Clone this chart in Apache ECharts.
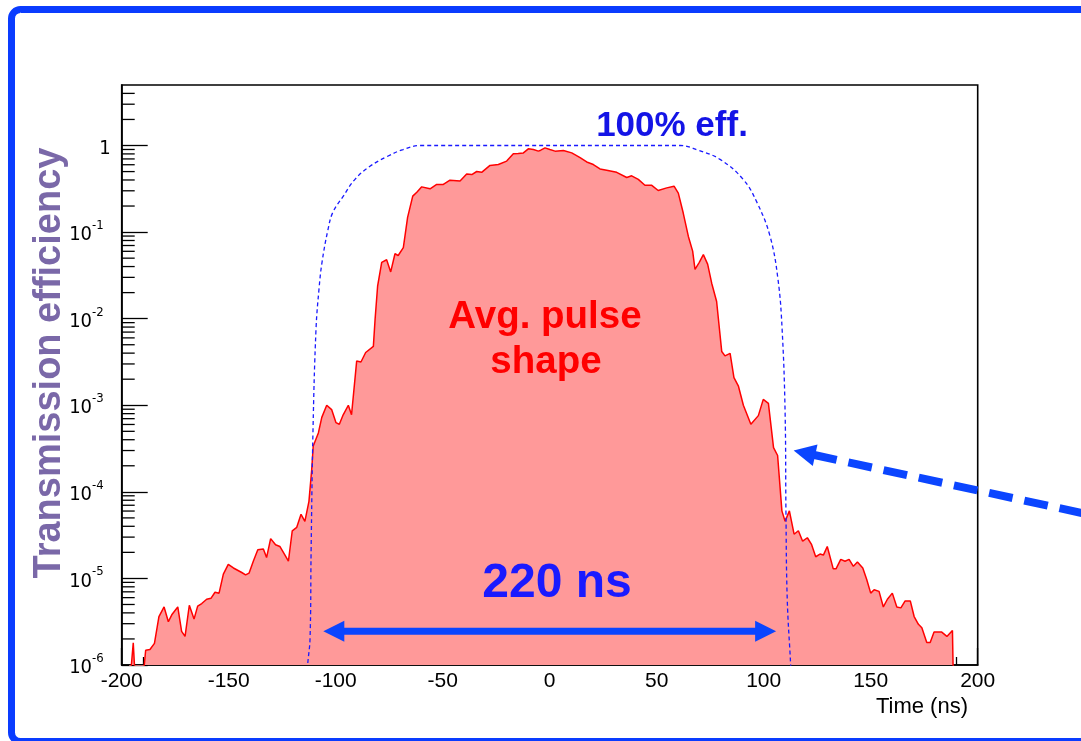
<!DOCTYPE html>
<html>
<head>
<meta charset="utf-8">
<script src="https://cdn.jsdelivr.net/npm/echarts@6/dist/echarts.min.js"></script>
<style>
  html, body { margin: 0; padding: 0; background: #fff; }
  #chart { width: 1081px; height: 741px; }
</style>
</head>
<body>
<div id="chart"></div>
<script>
// Average pulse shape: bin centres (ns) and transmitted fraction
const pulseTime = [
  -196.5, -194.6, -193.4, -190.6, -188.8, -186.8, -184.7, -182.6, -180.2, -178.2,
  -176.6, -173.8, -172.0, -170.4, -168.4, -166.2, -164.5, -162.6, -160.3, -158.3,
  -156.4, -154.5, -152.5, -150.2, -147.8, -143.9, -142.1, -140.5, -138.5, -136.4,
  -133.8, -132.3, -130.4, -128.1, -126.1, -123.7, -122.1, -120.3, -118.2, -116.2,
  -114.4, -112.5, -111.2, -110.5, -108.1, -106.5, -104.2, -101.9, -99.9, -98.3,
  -96.5, -94.1, -92.6, -90.2, -88.2, -86.0, -82.4, -81.6, -80.4, -78.5,
  -76.2, -74.3, -72.3, -70.8, -68.4, -66.4, -64.0, -62.1, -59.8, -55.9,
  -52.8, -49.7, -46.6, -41.9, -38.8, -36.4, -34.1, -31.8, -27.9, -24.0,
  -20.1, -17.0, -14.7, -12.3, -10.0, -7.6, -5.3, -4.2, -2.2, 0.1,
  2.5, 6.4, 10.3, 14.2, 17.3, 20.4, 23.5, 26.6, 31.3, 36.0,
  38.3, 41.4, 44.5, 47.7, 50.7, 54.7, 58.1, 60.1, 62.4, 64.8,
  66.8, 67.9, 69.9, 71.8, 73.8, 75.7, 78.0, 80.4, 81.9, 84.3,
  86.1, 88.2, 90.5, 94.0, 97.5, 99.8, 102.2, 104.6, 106.5, 108.5,
  110.0, 112.0, 114.2, 116.2, 118.2, 120.4, 122.4, 124.3, 126.3, 127.9,
  129.7, 132.5, 133.8, 136.0, 138.0, 139.9, 141.9, 143.8, 146.3, 148.1,
  150.0, 151.6, 153.9, 155.9, 157.8, 160.1, 162.2, 164.1, 166.1, 168.5,
  170.3, 172.3, 173.9, 176.2, 177.8, 179.6, 183.2, 185.6, 188.2, 188.7
];
const pulseEff = [
  5e-7, 1.8e-6, 5e-7, 5e-7, 1.48e-6, 1.51e-6, 1.78e-6, 3.63e-6, 4.68e-6, 3.16e-6,
  3.80e-6, 4.68e-6, 2.45e-6, 2.14e-6, 4.90e-6, 3.39e-6, 4.79e-6, 5.13e-6, 5.75e-6, 5.89e-6,
  6.92e-6, 6.76e-6, 1.12e-5, 1.45e-5, 1.32e-5, 1.17e-5, 1.10e-5, 1.15e-5, 1.58e-5, 2.14e-5,
  2.19e-5, 1.74e-5, 2.88e-5, 2.45e-5, 2.34e-5, 1.86e-5, 1.58e-5, 3.55e-5, 3.89e-5, 5.50e-5,
  4.57e-5, 7.76e-5, 1.82e-4, 3.39e-4, 4.79e-4, 7.24e-4, 1.00e-3, 8.91e-4, 6.31e-4, 6.03e-4,
  7.76e-4, 1.00e-3, 7.76e-4, 3.24e-3, 3.16e-3, 4.07e-3, 4.79e-3, 9.77e-3, 2.40e-2, 4.47e-2,
  4.79e-2, 3.47e-2, 5.62e-2, 5.37e-2, 6.61e-2, 0.148, 0.260, 0.288, 0.333, 0.316,
  0.355, 0.355, 0.398, 0.389, 0.468, 0.462, 0.501, 0.490, 0.589, 0.603,
  0.661, 0.802, 0.809, 0.822, 0.916, 0.899, 0.861, 0.883, 0.940, 0.899,
  0.861, 0.875, 0.822, 0.724, 0.646, 0.603, 0.537, 0.519, 0.490, 0.427,
  0.447, 0.407, 0.347, 0.347, 0.302, 0.324, 0.339, 0.282, 0.166, 8.91e-2,
  6.03e-2, 3.72e-2, 4.47e-2, 5.50e-2, 4.27e-2, 2.57e-2, 1.58e-2, 4.17e-3, 3.72e-3, 3.98e-3,
  2.09e-3, 1.66e-3, 1.00e-3, 6.03e-4, 7.59e-4, 1.17e-3, 1.05e-3, 3.24e-4, 2.63e-4, 6.03e-5,
  4.57e-5, 6.03e-5, 3.24e-5, 3.55e-5, 2.69e-5, 2.95e-5, 2.45e-5, 1.78e-5, 1.91e-5, 1.86e-5,
  2.34e-5, 1.29e-5, 1.29e-5, 1.66e-5, 1.58e-5, 1.66e-5, 1.38e-5, 1.55e-5, 1.32e-5, 9.77e-6,
  6.76e-6, 7.41e-6, 7.08e-6, 4.68e-6, 5.75e-6, 6.76e-6, 4.68e-6, 4.57e-6, 5.50e-6, 5.50e-6,
  3.63e-6, 2.95e-6, 2.69e-6, 1.82e-6, 1.82e-6, 2.40e-6, 2.40e-6, 2.14e-6, 2.51e-6, 5e-7
];

// Ideal transmission window (100 % efficiency)
const windowTime = [
  -113.6, -113.1, -112.0, -111.5, -110.6, -109.2, -107.8, -106.4, -103.6, -101.3,
  -96.6, -91.0, -84.0, -76.0, -68.5, -60.6, 61.1, 69.4, 79.6, 90.4,
  96.9, 103.0, 106.7, 108.6, 110.0, 110.4, 111.0, 112.6, 113.1
];
const windowEff = [
  5e-7, 1e-6, 2.0e-6, 2.0e-5, 5.25e-4, 7.59e-3, 2.2e-2, 4.47e-2, 0.107, 0.170,
  0.257, 0.407, 0.575, 0.746, 0.899, 1, 1, 0.883, 0.692, 0.407,
  0.219, 0.089, 0.0282, 7.59e-3, 8.3e-4, 5.75e-5, 5.75e-6, 1e-6, 5e-7
];

// Axis ranges
const timeRange = [-200, 200];
const timeStep = 50;
const effRange = [1e-6, 5];

// Window width annotation (ns) and where its arrow sits
const windowSpan = 220;
const spanArrowEff = 2.45e-6;
// Point on the window edge that the dashed pointer aims at
const pointerTarget = [114, 3.0e-4];

const FONT = "'Liberation Sans', Arial, Helvetica, sans-serif";
const NARROW = "'Liberation Sans Narrow', 'Arial Narrow', 'DejaVu Sans Condensed', 'Liberation Sans', sans-serif";

// Minor log ticks 2..9 of every decade inside the range
const minorEff = [];
for (let d = -6; d <= 0; d++) {
  for (let k = 2; k <= 9; k++) {
    const v = k * Math.pow(10, d);
    if (v > effRange[0] && v < effRange[1]) minorEff.push(v);
  }
}

const chart = echarts.init(document.getElementById('chart'), null, { renderer: 'canvas' });

const option = {
  animation: false,
  backgroundColor: '#fff',
  grid: {
    left: 121.7, right: 103.3, top: 85, bottom: 76,
    show: true, borderColor: '#000', borderWidth: 1.6, backgroundColor: 'transparent'
  },
  xAxis: {
    type: 'value',
    min: timeRange[0], max: timeRange[1], interval: timeStep,
    axisLine: { onZero: false, lineStyle: { color: '#000', width: 1.6 } },
    axisTick: { inside: true, length: 17, lineStyle: { color: '#000', width: 1.3 } },
    minorTick: { show: true, splitNumber: 5, length: 8, lineStyle: { color: '#000', width: 1.3 } },
    splitLine: { show: false },
    axisLabel: { color: '#000', fontSize: 21, fontFamily: FONT, margin: 6 }
  },
  yAxis: {
    type: 'log', logBase: 10,
    min: effRange[0], max: effRange[1],
    axisLine: { onZero: false, lineStyle: { color: '#000', width: 1.6 } },
    axisTick: { inside: true, length: 26, lineStyle: { color: '#000', width: 1.3 } },
    splitLine: { show: false },
    axisLabel: {
      color: '#000', fontFamily: NARROW, margin: 11, showMaxLabel: false,
      formatter: function (v) {
        const e = Math.round(Math.log10(v));
        if (e === 0) return '{b|1}';
        return '{b|10}{e|' + e + '}';
      },
      rich: {
        b: { fontSize: 20, fontFamily: NARROW, color: '#000', padding: [6, 0, 0, 0] },
        e: { fontSize: 13, fontFamily: NARROW, color: '#000', verticalAlign: 'top', padding: [0, 7, 0, 0] }
      }
    }
  },
  series: [
    {
      name: 'Avg. pulse shape',
      type: 'line',
      data: pulseTime.map((t, i) => [t, pulseEff[i]]),
      showSymbol: false,
      smooth: false,
      clip: true,
      lineStyle: { color: '#ff0000', width: 1.5 },
      areaStyle: { color: '#ff9999', opacity: 1, origin: 'start' },
      z: 2
    },
    {
      name: '100% eff.',
      type: 'line',
      data: windowTime.map((t, i) => [t, windowEff[i]]),
      showSymbol: false,
      smooth: 0.4,
      clip: true,
      lineStyle: { color: '#1a1aff', width: 1.3, type: [4, 3] },
      z: 3
    },
    {
      type: 'custom',
      silent: true,
      clip: false,
      data: minorEff.map(v => [timeRange[0], v]),
      renderItem: function (params, api) {
        const p = api.coord([api.value(0), api.value(1)]);
        return {
          type: 'line',
          shape: { x1: p[0], y1: p[1], x2: p[0] + 13, y2: p[1] },
          style: { stroke: '#000', lineWidth: 1.3 }
        };
      },
      z: 5
    }
  ]
};

chart.setOption(option);

// Annotations placed from data coordinates
const toPx = (pt) => chart.convertToPixel({ gridIndex: 0 }, pt);
const ARROW_BLUE = '#0b45ff';

const half = windowSpan / 2;
const pL = toPx([-half, spanArrowEff]);
const pR = toPx([half, spanArrowEff]);
const gap = 9, headLen = 21, headHalf = 10.5, shaft = 7;
const tipL = pL[0] + gap, tipR = pR[0] - gap, ay = pL[1];

const tip = toPx(pointerTarget);
const dir = [0.977, 0.212];
const pHead = 22, pHalf = 11;
const base = [tip[0] + dir[0] * pHead, tip[1] + dir[1] * pHead];
const nrm = [-dir[1], dir[0]];
const tailLen = 340;

const graphics = [
  // outer frame of the figure
  {
    type: 'rect', silent: true, z: 100,
    shape: { x: 11.5, y: 9.5, width: 1090, height: 732, r: 9 },
    style: { fill: 'none', stroke: '#0a3cff', lineWidth: 7 }
  },
  // axis title
  {
    type: 'text', x: 50, y: 363, rotation: Math.PI / 2, z: 50,
    style: {
      text: 'Transmission efficiency', fontFamily: FONT, fontSize: 38, fontWeight: 'bold',
      fill: '#7a68a8', align: 'center', verticalAlign: 'middle'
    }
  },
  {
    type: 'text', x: 968, y: 707, z: 50,
    style: {
      text: 'Time (ns)', fontFamily: FONT, fontSize: 22, fill: '#000',
      align: 'right', verticalAlign: 'middle'
    }
  },
  {
    type: 'text', x: 672, y: 126, z: 50,
    style: {
      text: '100% eff.', fontFamily: FONT, fontSize: 35, fontWeight: 'bold',
      fill: '#1414e6', align: 'center', verticalAlign: 'middle'
    }
  },
  {
    type: 'text', x: 545, y: 317, z: 50,
    style: {
      text: 'Avg. pulse', fontFamily: FONT, fontSize: 38.5, fontWeight: 'bold',
      fill: '#ff0000', align: 'center', verticalAlign: 'middle'
    }
  },
  {
    type: 'text', x: 546, y: 362, z: 50,
    style: {
      text: 'shape', fontFamily: FONT, fontSize: 38.5, fontWeight: 'bold',
      fill: '#ff0000', align: 'center', verticalAlign: 'middle'
    }
  },
  {
    type: 'text', x: 557, y: 584, z: 50,
    style: {
      text: windowSpan + ' ns', fontFamily: FONT, fontSize: 48, fontWeight: 'bold',
      fill: '#1a1aff', align: 'center', verticalAlign: 'middle'
    }
  },
  // double-headed span arrow
  {
    type: 'rect', z: 40, silent: true,
    shape: { x: tipL + headLen - 2, y: ay - shaft / 2, width: tipR - tipL - 2 * headLen + 4, height: shaft },
    style: { fill: ARROW_BLUE }
  },
  {
    type: 'polygon', z: 40, silent: true,
    shape: { points: [[tipL, ay], [tipL + headLen, ay - headHalf], [tipL + headLen, ay + headHalf]] },
    style: { fill: ARROW_BLUE }
  },
  {
    type: 'polygon', z: 40, silent: true,
    shape: { points: [[tipR, ay], [tipR - headLen, ay - headHalf], [tipR - headLen, ay + headHalf]] },
    style: { fill: ARROW_BLUE }
  },
  // dashed pointer to the window edge
  {
    type: 'line', z: 40, silent: true,
    shape: {
      x1: base[0] - dir[0] * 2, y1: base[1] - dir[1] * 2,
      x2: base[0] + dir[0] * tailLen, y2: base[1] + dir[1] * tailLen
    },
    style: { stroke: ARROW_BLUE, lineWidth: 8, lineDash: [24, 12] }
  },
  {
    type: 'polygon', z: 40, silent: true,
    shape: {
      points: [
        [tip[0], tip[1]],
        [base[0] + nrm[0] * pHalf, base[1] + nrm[1] * pHalf],
        [base[0] - nrm[0] * pHalf, base[1] - nrm[1] * pHalf]
      ]
    },
    style: { fill: ARROW_BLUE }
  }
];

chart.setOption({ graphic: graphics });
</script>
</body>
</html>
